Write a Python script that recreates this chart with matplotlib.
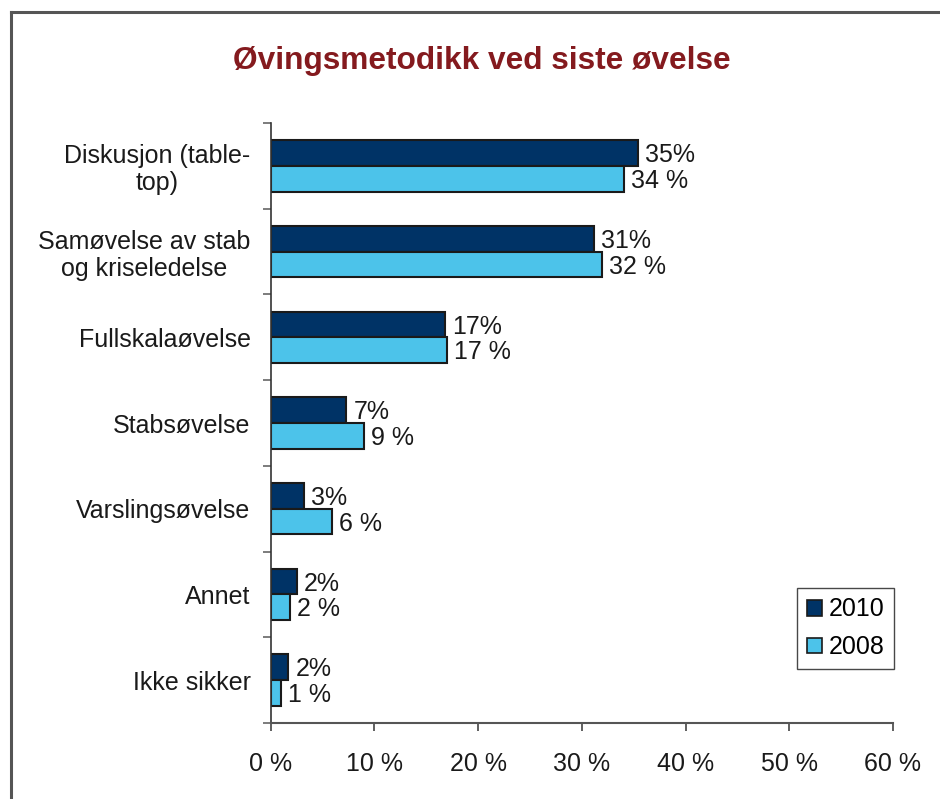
import matplotlib
matplotlib.use("Agg")
import matplotlib.pyplot as plt
from matplotlib.patches import Patch
from matplotlib.lines import Line2D
import numpy as np

plt.rcParams['font.family'] = ['Liberation Sans', 'DejaVu Sans']

categories = ["Diskusjon (table-\ntop)", "Samøvelse av stab\nog kriseledelse", "Fullskalaøvelse",
              "Stabsøvelse", "Varslingsøvelse", "Annet", "Ikke sikker"]
values_2010 = [35.4, 31.2, 16.8, 7.3, 3.2, 2.5, 1.7]
values_2008 = [34.1, 31.9, 17.0, 9.0, 5.9, 1.9, 1.0]
labels_2010 = ["35%", "31%", "17%", "7%", "3%", "2%", "2%"]
labels_2008 = ["34 %", "32 %", "17 %", "9 %", "6 %", "2 %", "1 %"]
xticks = [0, 10, 20, 30, 40, 50, 60]
xticklabels = ["0 %", "10 %", "20 %", "30 %", "40 %", "50 %", "60 %"]
series_names = ["2010", "2008"]

c2010 = "#003366"
c2008 = "#4cc3ea"
FS = 18

W, H = 940, 799
fig = plt.figure(figsize=(W / 100, H / 100), dpi=100)
ax = fig.add_axes([270.7 / W, 1 - 723 / H, (893 - 270.7) / W, (723 - 123) / H])

y = np.arange(len(categories))
bh = 0.30
ax.barh(y - bh / 2, values_2010, height=bh, color=c2010, edgecolor="#1a1a1a", linewidth=1.5)
ax.barh(y + bh / 2, values_2008, height=bh, color=c2008, edgecolor="#1a1a1a", linewidth=1.5)

for i in range(len(categories)):
    ax.annotate(labels_2010[i], (values_2010[i], y[i] - bh / 2), xytext=(5, -1.5), textcoords="offset points",
                va="center", ha="left", fontsize=FS, color="#1a1a1a")
    ax.annotate(labels_2008[i], (values_2008[i], y[i] + bh / 2), xytext=(5, -1.5), textcoords="offset points",
                va="center", ha="left", fontsize=FS, color="#1a1a1a")

ax.set_xlim(0, 60)
ax.set_ylim(len(categories) - 0.5, -0.5)
ax.set_xticks(xticks)
ax.set_xticklabels(xticklabels, fontsize=FS, color="#1a1a1a")
ax.set_yticks(y)
ax.set_yticklabels(categories, fontsize=FS, color="#1a1a1a", multialignment="center", linespacing=1.15)
ax.set_yticks(np.arange(-0.5, len(categories), 1), minor=True)
ax.tick_params(axis="y", which="major", length=0, pad=14.5)
ax.tick_params(axis="y", which="minor", length=6, width=1.2, color="#666666", direction="out")
ax.tick_params(axis="x", which="major", length=6, width=1.2, color="#444444", direction="out", pad=15)

for s in ["top", "right"]:
    ax.spines[s].set_visible(False)
ax.spines["left"].set_color("#333333")
ax.spines["bottom"].set_color("#555555")
ax.spines["left"].set_linewidth(1.2)
ax.spines["bottom"].set_linewidth(1.5)

fig.text(482 / W, 1 - 61 / H, "Øvingsmetodikk ved siste øvelse", ha="center", va="center",
         fontsize=22.8, fontweight="bold", color="#841a1e")

handles = [Patch(facecolor=c2010, edgecolor="#1a1a1a", linewidth=1.2),
           Patch(facecolor=c2008, edgecolor="#1a1a1a", linewidth=1.2)]
leg = fig.legend(handles, series_names, loc="upper left", bbox_to_anchor=(797 / W, 1 - 588 / H),
                 bbox_transform=fig.transFigure, borderaxespad=0, fontsize=FS, frameon=True,
                 fancybox=False, edgecolor="#1a1a1a", handlelength=0.6, handleheight=0.6,
                 handletextpad=0.3, labelspacing=0.55, borderpad=0.38)
leg.get_frame().set_linewidth(1.0)

# outer frame (cropped at right and bottom)
fig.add_artist(Line2D([10.5 / W, 10.5 / W], [0, 1 - 12 / H], transform=fig.transFigure,
                      color="#555555", linewidth=2.2))
fig.add_artist(Line2D([10.5 / W, 1], [1 - 12 / H, 1 - 12 / H], transform=fig.transFigure,
                      color="#555555", linewidth=2.2))

fig.savefig("out.png", dpi=100, facecolor="white")
